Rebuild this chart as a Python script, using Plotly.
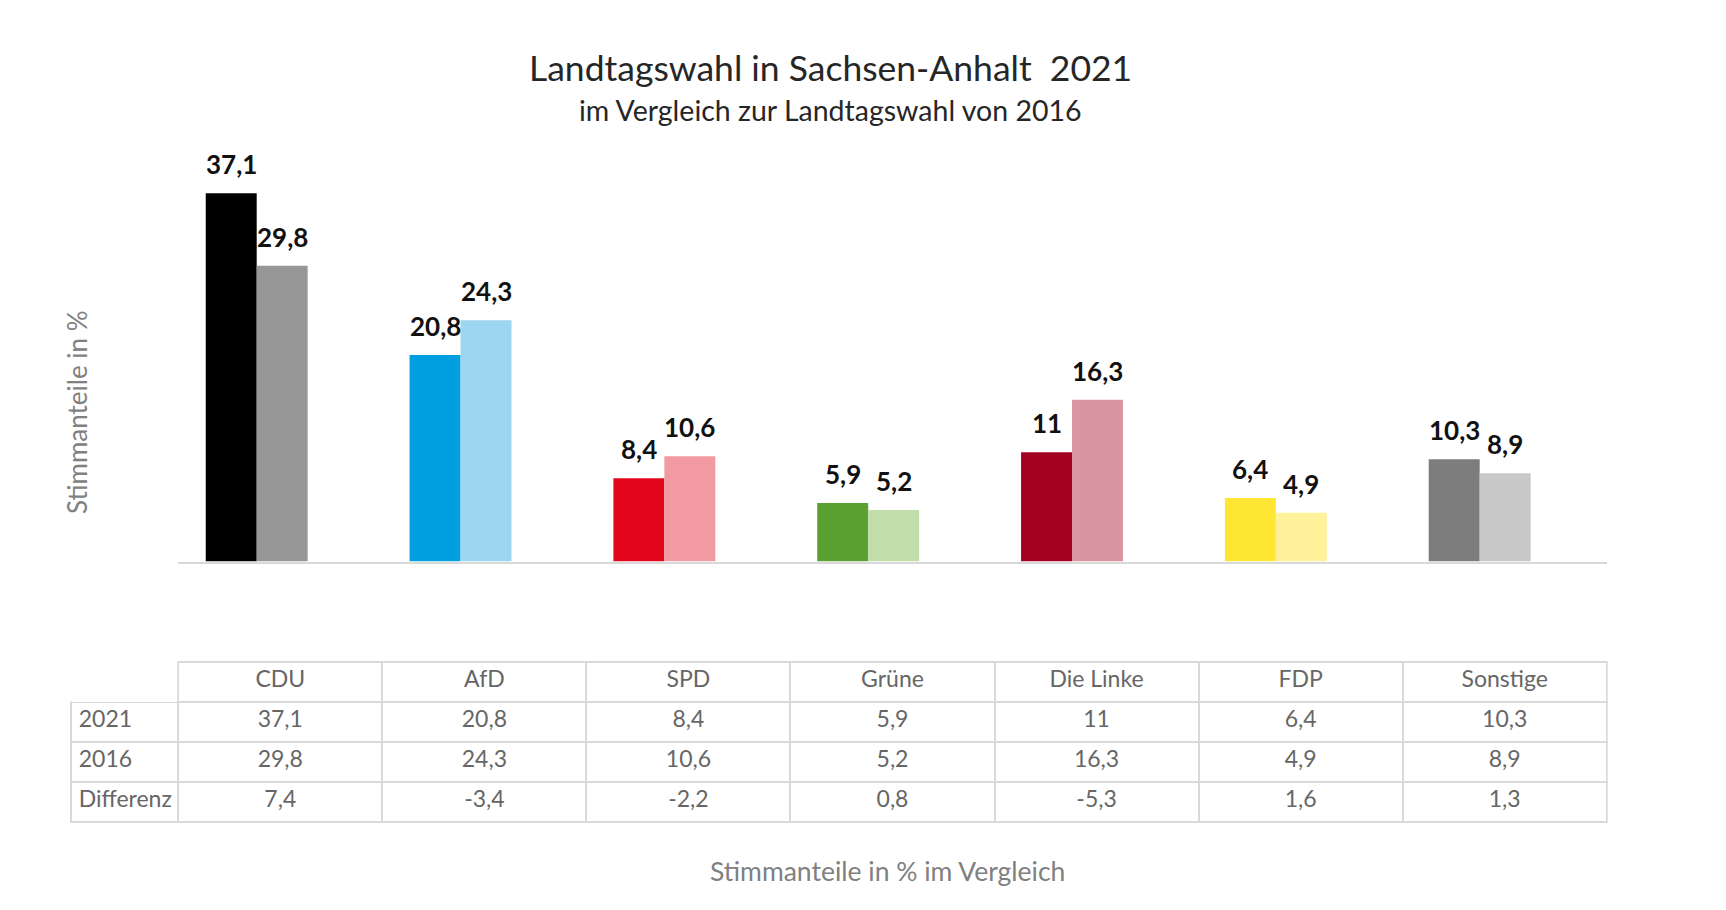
import plotly.graph_objects as go

# ---------------- data ----------------
parties = ["CDU", "AfD", "SPD", "Grüne", "Die Linke", "FDP", "Sonstige"]
votes_2021 = [37.1, 20.8, 8.4, 5.9, 11, 6.4, 10.3]
votes_2016 = [29.8, 24.3, 10.6, 5.2, 16.3, 4.9, 8.9]
difference = [7.4, -3.4, -2.2, 0.8, -5.3, 1.6, 1.3]
row_labels = ["2021", "2016", "Differenz"]

colors_2021 = ["#000000", "#009fe0", "#e2071a", "#5aa032", "#a4001f", "#ffe632", "#7d7d7d"]
colors_2016 = ["#969696", "#9dd6f0", "#f29aa1", "#c0ddaa", "#da95a1", "#fff29b", "#c8c8c8"]

W, H = 1726, 910
FONT = "Lato"


def fmt(v):
    return f"{v:g}".replace(".", ",")


def px_x(p):
    return p / W


def px_y(p):
    return 1 - p / H


x_idx = list(range(len(parties)))

fig = go.Figure()
fig.add_trace(go.Bar(x=x_idx, y=votes_2021, name="2021",
                     marker=dict(color=colors_2021, line=dict(width=0))))
fig.add_trace(go.Bar(x=x_idx, y=votes_2016, name="2016",
                     marker=dict(color=colors_2016, line=dict(width=0))))

# value labels above bars
annotations = []
for i, (a, b) in enumerate(zip(votes_2021, votes_2016)):
    for off, v in ((-0.125, a), (0.125, b)):
        annotations.append(dict(
            x=i + off, y=v, xref="x", yref="y", text=fmt(v), showarrow=False,
            yanchor="bottom", xanchor="center", yshift=11,
            font=dict(family=FONT, size=26, color="#111111", weight="bold")))

# titles
annotations.append(dict(
    x=px_x(830), y=px_y(68), xref="paper", yref="paper",
    text="Landtagswahl in Sachsen-Anhalt\u00a0 2021", showarrow=False,
    xanchor="center", yanchor="middle",
    font=dict(family=FONT, size=35.5, color="#262626")))
annotations.append(dict(
    x=px_x(830), y=px_y(110), xref="paper", yref="paper",
    text="im Vergleich zur Landtagswahl von 2016", showarrow=False,
    xanchor="center", yanchor="middle",
    font=dict(family=FONT, size=28.5, color="#262626")))
annotations.append(dict(
    x=px_x(77), y=px_y(412), xref="paper", yref="paper",
    text="Stimmanteile in %", showarrow=False, textangle=-90,
    xanchor="center", yanchor="middle",
    font=dict(family=FONT, size=26, color="#808080")))
annotations.append(dict(
    x=px_x(887), y=px_y(871), xref="paper", yref="paper",
    text="Stimmanteile in % im Vergleich", showarrow=False,
    xanchor="center", yanchor="middle",
    font=dict(family=FONT, size=26.5, color="#808080")))

# data table
border = "#d9d9d9"
ncol = len(parties) + 1
body_values = [row_labels]
for a, b, d in zip(votes_2021, votes_2016, difference):
    body_values.append([fmt(a), fmt(b), fmt(d)])

table_font = dict(family=FONT, size=23, color="#666666")
fig.add_trace(go.Table(
    domain=dict(x=[px_x(70.7), px_x(1606.7)], y=[px_y(826), px_y(661.5)]),
    columnwidth=[107.6] + [204.1] * len(parties),
    header=dict(
        values=[""] + parties,
        height=40,
        align=["left"] + ["center"] * len(parties),
        fill=dict(color="#ffffff"),
        line=dict(color=border, width=[0] + [2] * len(parties)),
        font=table_font,
    ),
    cells=dict(
        values=body_values,
        height=40,
        align=["left"] + ["center"] * len(parties),
        fill=dict(color="#ffffff"),
        line=dict(color=border, width=2),
        font=table_font,
    ),
))

x0_px, unit_px = 256.7, 203.83
fig.update_layout(
    width=W, height=H,
    margin=dict(l=0, r=0, t=0, b=0),
    paper_bgcolor="#ffffff", plot_bgcolor="#ffffff",
    barmode="group", bargap=0.5, bargroupgap=0,
    showlegend=False,
    xaxis=dict(domain=[px_x(178), px_x(1607)],
               range=[-(x0_px - 178) / unit_px, (1607 - x0_px) / unit_px],
               showline=True, linecolor=border, linewidth=2,
               showgrid=False, zeroline=False, showticklabels=False, ticks=""),
    yaxis=dict(domain=[px_y(561.5), px_y(164.5)], range=[0, 40],
               showline=False, showgrid=False, zeroline=False,
               showticklabels=False, ticks=""),
    annotations=annotations,
)

fig.write_html("out.html")
